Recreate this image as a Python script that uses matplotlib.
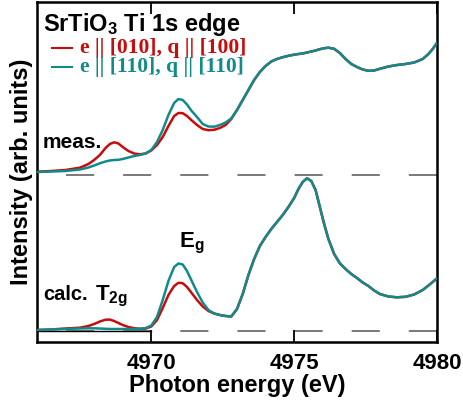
import numpy as np
import matplotlib
matplotlib.use("Agg")
import matplotlib.pyplot as plt

plt.rcParams['font.family'] = ['Liberation Sans', 'DejaVu Sans']
plt.rcParams['font.weight'] = 'bold'
plt.rcParams['mathtext.fontset'] = 'custom'
plt.rcParams['mathtext.rm'] = 'Liberation Sans:bold'
plt.rcParams['mathtext.bf'] = 'Liberation Sans:bold'
plt.rcParams['mathtext.default'] = 'bf'

# 光子能量 (eV)
energy = [4966.0, 4966.5, 4967.0, 4967.5, 4967.8, 4968.0, 4968.2, 4968.4, 4968.55, 4968.7,
          4968.85, 4969.0, 4969.2, 4969.4, 4969.6, 4969.8, 4970.0, 4970.2, 4970.4, 4970.6,
          4970.8, 4970.95, 4971.1, 4971.25, 4971.4, 4971.6, 4971.8, 4972.0, 4972.2, 4972.4,
          4972.6, 4972.8, 4973.0, 4973.2, 4973.4, 4973.6, 4973.8, 4974.0, 4974.2, 4974.4,
          4974.6, 4974.8, 4975.0, 4975.15, 4975.3, 4975.45, 4975.6, 4975.75, 4975.9, 4976.05,
          4976.2, 4976.4, 4976.6, 4976.8, 4977.0, 4977.2, 4977.4, 4977.6, 4977.8, 4978.0,
          4978.3, 4978.6, 4978.9, 4979.2, 4979.5, 4979.7, 4979.85, 4980.0]

# 测量谱 (相对基线)
meas_010 = [0.033, 0.04, 0.05, 0.073, 0.11, 0.15, 0.20, 0.27, 0.31, 0.327,
            0.315, 0.28, 0.24, 0.215, 0.207, 0.215, 0.245, 0.30, 0.38, 0.49,
            0.59, 0.62, 0.618, 0.59, 0.55, 0.50, 0.46, 0.448, 0.452, 0.47,
            0.50, 0.56, 0.65, 0.75, 0.85, 0.95, 1.03, 1.09, 1.135, 1.16,
            1.178, 1.192, 1.203, 1.21, 1.215, 1.225, 1.235, 1.245, 1.258, 1.268,
            1.273, 1.262, 1.22, 1.16, 1.11, 1.08, 1.055, 1.042, 1.045, 1.062,
            1.085, 1.10, 1.11, 1.125, 1.16, 1.21, 1.26, 1.323]
meas_110 = [0.03, 0.035, 0.04, 0.055, 0.075, 0.095, 0.117, 0.135, 0.145, 0.15,
            0.152, 0.16, 0.175, 0.19, 0.20, 0.215, 0.25, 0.33, 0.45, 0.60,
            0.72, 0.76, 0.75, 0.705, 0.645, 0.58, 0.51, 0.485, 0.483, 0.50,
            0.525, 0.565, 0.65, 0.75, 0.85, 0.95, 1.03, 1.09, 1.135, 1.16,
            1.178, 1.192, 1.203, 1.21, 1.215, 1.225, 1.235, 1.245, 1.258, 1.268,
            1.273, 1.262, 1.22, 1.16, 1.11, 1.08, 1.055, 1.042, 1.045, 1.062,
            1.085, 1.10, 1.11, 1.125, 1.16, 1.21, 1.26, 1.323]

# 计算谱
calc_010 = [0.01, 0.015, 0.025, 0.033, 0.05, 0.07, 0.095, 0.113, 0.114, 0.10,
            0.08, 0.06, 0.04, 0.028, 0.022, 0.024, 0.045, 0.11, 0.23, 0.36,
            0.45, 0.482, 0.478, 0.44, 0.385, 0.31, 0.245, 0.20, 0.175, 0.16,
            0.15, 0.145, 0.22, 0.37, 0.56, 0.72, 0.85, 0.94, 1.02, 1.09,
            1.16, 1.24, 1.33, 1.42, 1.49, 1.527, 1.50, 1.41, 1.24, 1.07,
            0.92, 0.77, 0.677, 0.62, 0.57, 0.53, 0.485, 0.45, 0.405, 0.37,
            0.345, 0.337, 0.342, 0.365, 0.41, 0.455, 0.49, 0.527]
calc_110 = [0.01, 0.015, 0.02, 0.025, 0.027, 0.027, 0.025, 0.022, 0.02, 0.02,
            0.02, 0.02, 0.02, 0.02, 0.023, 0.028, 0.055, 0.14, 0.31, 0.50,
            0.64, 0.675, 0.665, 0.60, 0.51, 0.39, 0.285, 0.21, 0.175, 0.16,
            0.15, 0.145, 0.22, 0.37, 0.56, 0.72, 0.85, 0.94, 1.02, 1.09,
            1.16, 1.24, 1.33, 1.42, 1.49, 1.527, 1.50, 1.41, 1.24, 1.07,
            0.92, 0.77, 0.677, 0.62, 0.57, 0.53, 0.485, 0.45, 0.405, 0.37,
            0.345, 0.337, 0.342, 0.365, 0.41, 0.455, 0.49, 0.527]

meas_offset = 1.56
red = '#c80c0c'
teal = '#138a8a'

fig = plt.figure(figsize=(4.63, 4.08), dpi=100)
ax = fig.add_axes([37 / 463, 66 / 408, 400 / 463, 340 / 408])

x = np.array(energy)
# 基线
for base in [0, meas_offset]:
    ax.plot([4967.0, 4980.0], [base, base], color='#555555', lw=1.1,
            dashes=(18.4, 19.0), zorder=1)
ax.plot([4966.0, 4970.0], [0, 0], color='k', lw=1.0, zorder=1)

kw = dict(lw=1.8, solid_joinstyle='round', solid_capstyle='round')
ax.plot(x, np.array(meas_010) + meas_offset, color=red, zorder=2, **kw)
ax.plot(x, np.array(meas_110) + meas_offset, color=teal, zorder=3, **kw)
ax.plot(x, calc_010, color=red, zorder=2, **kw)
ax.plot(x, calc_110, color=teal, zorder=3, **kw)

ax.set_xlim(4966, 4980)
ax.set_ylim(-0.11, 3.29)
ax.set_xticks([4970, 4975, 4980])
ax.set_yticks([])
ax.tick_params(axis='x', direction='in', top=True, length=8.3, width=1.3,
               labelsize=16, pad=8)
for s in ax.spines.values():
    s.set_linewidth(1.8)

ax.set_xlabel('Photon energy (eV)', fontsize=17, fontweight='bold', labelpad=0)
ax.set_ylabel('Intensity (arb. units)', fontsize=17, fontweight='bold', labelpad=3)

# 标题与图例
ax.text(0.015, 0.915, 'SrTiO$_3$ Ti 1s edge', transform=ax.transAxes,
        fontsize=17, fontweight='bold', va='baseline')
ax.plot([0.0375, 0.0875], [0.8647, 0.8647], color=red, lw=1.5, transform=ax.transAxes)
ax.plot([0.0375, 0.0875], [0.809, 0.809], color=teal, lw=1.5, transform=ax.transAxes)
ax.text(0.1075, 0.8647, 'e || [010], q || [100]', transform=ax.transAxes, color=red,
        fontsize=15.5, fontweight='bold', family='Liberation Serif', va='center')
ax.text(0.1075, 0.809, 'e || [110], q || [110]', transform=ax.transAxes, color=teal,
        fontsize=15.5, fontweight='bold', family='Liberation Serif', va='center')

ax.text(0.015, 0.588, 'meas.', transform=ax.transAxes, fontsize=15, fontweight='bold', va='center')
ax.text(0.015, 0.14, 'calc.', transform=ax.transAxes, fontsize=14.5, fontweight='bold', va='center')
ax.text(0.145, 0.135, 'T$_{2g}$', transform=ax.transAxes, fontsize=16, fontweight='bold', va='center')
ax.text(0.355, 0.29, 'E$_g$', transform=ax.transAxes, fontsize=16, fontweight='bold', va='center')

plt.savefig('out.png', dpi=100)
